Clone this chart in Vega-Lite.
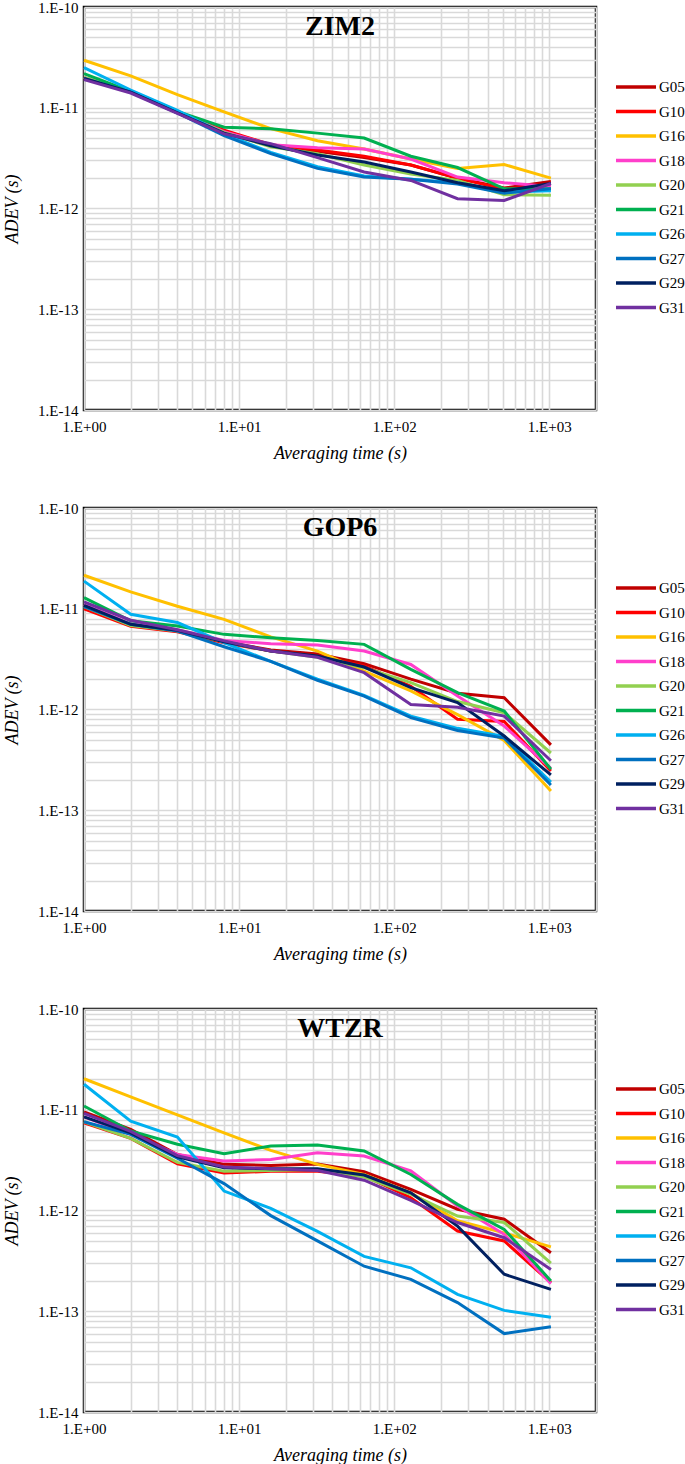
{
"$schema": "https://vega.github.io/schema/vega-lite/v6.json",
"padding": {"left": 2, "top": -2, "right": 5, "bottom": 2},
"datasets": {"adev": [
{"station":"ZIM2","sat":"G05","tau":1,"adev":1.95e-11},{"station":"ZIM2","sat":"G05","tau":2,"adev":1.43e-11},{"station":"ZIM2","sat":"G05","tau":4,"adev":9.0e-12},{"station":"ZIM2","sat":"G05","tau":8,"adev":5.9e-12},{"station":"ZIM2","sat":"G05","tau":16,"adev":4.2e-12},{"station":"ZIM2","sat":"G05","tau":32,"adev":3.7e-12},{"station":"ZIM2","sat":"G05","tau":64,"adev":3.2e-12},{"station":"ZIM2","sat":"G05","tau":128,"adev":2.7e-12},{"station":"ZIM2","sat":"G05","tau":256,"adev":2.0e-12},{"station":"ZIM2","sat":"G05","tau":512,"adev":1.6e-12},{"station":"ZIM2","sat":"G05","tau":1024,"adev":1.85e-12},
{"station":"ZIM2","sat":"G10","tau":1,"adev":1.95e-11},{"station":"ZIM2","sat":"G10","tau":2,"adev":1.43e-11},{"station":"ZIM2","sat":"G10","tau":4,"adev":9.0e-12},{"station":"ZIM2","sat":"G10","tau":8,"adev":6.0e-12},{"station":"ZIM2","sat":"G10","tau":16,"adev":4.3e-12},{"station":"ZIM2","sat":"G10","tau":32,"adev":3.8e-12},{"station":"ZIM2","sat":"G10","tau":64,"adev":3.3e-12},{"station":"ZIM2","sat":"G10","tau":128,"adev":2.7e-12},{"station":"ZIM2","sat":"G10","tau":256,"adev":2.0e-12},{"station":"ZIM2","sat":"G10","tau":512,"adev":1.55e-12},{"station":"ZIM2","sat":"G10","tau":1024,"adev":1.75e-12},
{"station":"ZIM2","sat":"G16","tau":1,"adev":2.96e-11},{"station":"ZIM2","sat":"G16","tau":2,"adev":2.07e-11},{"station":"ZIM2","sat":"G16","tau":4,"adev":1.35e-11},{"station":"ZIM2","sat":"G16","tau":8,"adev":9.1e-12},{"station":"ZIM2","sat":"G16","tau":16,"adev":6.2e-12},{"station":"ZIM2","sat":"G16","tau":32,"adev":4.7e-12},{"station":"ZIM2","sat":"G16","tau":64,"adev":3.9e-12},{"station":"ZIM2","sat":"G16","tau":128,"adev":3.1e-12},{"station":"ZIM2","sat":"G16","tau":256,"adev":2.5e-12},{"station":"ZIM2","sat":"G16","tau":512,"adev":2.73e-12},{"station":"ZIM2","sat":"G16","tau":1024,"adev":2.0e-12},
{"station":"ZIM2","sat":"G18","tau":1,"adev":2.0e-11},{"station":"ZIM2","sat":"G18","tau":2,"adev":1.43e-11},{"station":"ZIM2","sat":"G18","tau":4,"adev":9.0e-12},{"station":"ZIM2","sat":"G18","tau":8,"adev":5.8e-12},{"station":"ZIM2","sat":"G18","tau":16,"adev":4.3e-12},{"station":"ZIM2","sat":"G18","tau":32,"adev":4.0e-12},{"station":"ZIM2","sat":"G18","tau":64,"adev":3.9e-12},{"station":"ZIM2","sat":"G18","tau":128,"adev":3.1e-12},{"station":"ZIM2","sat":"G18","tau":256,"adev":2.05e-12},{"station":"ZIM2","sat":"G18","tau":512,"adev":1.8e-12},{"station":"ZIM2","sat":"G18","tau":1024,"adev":1.65e-12},
{"station":"ZIM2","sat":"G20","tau":1,"adev":2.0e-11},{"station":"ZIM2","sat":"G20","tau":2,"adev":1.43e-11},{"station":"ZIM2","sat":"G20","tau":4,"adev":9.0e-12},{"station":"ZIM2","sat":"G20","tau":8,"adev":5.7e-12},{"station":"ZIM2","sat":"G20","tau":16,"adev":4.1e-12},{"station":"ZIM2","sat":"G20","tau":32,"adev":3.5e-12},{"station":"ZIM2","sat":"G20","tau":64,"adev":2.7e-12},{"station":"ZIM2","sat":"G20","tau":128,"adev":2.2e-12},{"station":"ZIM2","sat":"G20","tau":256,"adev":1.9e-12},{"station":"ZIM2","sat":"G20","tau":512,"adev":1.37e-12},{"station":"ZIM2","sat":"G20","tau":1024,"adev":1.35e-12},
{"station":"ZIM2","sat":"G21","tau":1,"adev":2.18e-11},{"station":"ZIM2","sat":"G21","tau":2,"adev":1.45e-11},{"station":"ZIM2","sat":"G21","tau":4,"adev":9.2e-12},{"station":"ZIM2","sat":"G21","tau":8,"adev":6.4e-12},{"station":"ZIM2","sat":"G21","tau":16,"adev":6.2e-12},{"station":"ZIM2","sat":"G21","tau":32,"adev":5.6e-12},{"station":"ZIM2","sat":"G21","tau":64,"adev":5.0e-12},{"station":"ZIM2","sat":"G21","tau":128,"adev":3.3e-12},{"station":"ZIM2","sat":"G21","tau":256,"adev":2.55e-12},{"station":"ZIM2","sat":"G21","tau":512,"adev":1.57e-12},{"station":"ZIM2","sat":"G21","tau":1024,"adev":1.57e-12},
{"station":"ZIM2","sat":"G26","tau":1,"adev":2.5e-11},{"station":"ZIM2","sat":"G26","tau":2,"adev":1.5e-11},{"station":"ZIM2","sat":"G26","tau":4,"adev":9.4e-12},{"station":"ZIM2","sat":"G26","tau":8,"adev":5.5e-12},{"station":"ZIM2","sat":"G26","tau":16,"adev":3.6e-12},{"station":"ZIM2","sat":"G26","tau":32,"adev":2.6e-12},{"station":"ZIM2","sat":"G26","tau":64,"adev":2.1e-12},{"station":"ZIM2","sat":"G26","tau":128,"adev":1.95e-12},{"station":"ZIM2","sat":"G26","tau":256,"adev":1.8e-12},{"station":"ZIM2","sat":"G26","tau":512,"adev":1.45e-12},{"station":"ZIM2","sat":"G26","tau":1024,"adev":1.5e-12},
{"station":"ZIM2","sat":"G27","tau":1,"adev":1.95e-11},{"station":"ZIM2","sat":"G27","tau":2,"adev":1.43e-11},{"station":"ZIM2","sat":"G27","tau":4,"adev":8.9e-12},{"station":"ZIM2","sat":"G27","tau":8,"adev":5.3e-12},{"station":"ZIM2","sat":"G27","tau":16,"adev":3.5e-12},{"station":"ZIM2","sat":"G27","tau":32,"adev":2.5e-12},{"station":"ZIM2","sat":"G27","tau":64,"adev":2.05e-12},{"station":"ZIM2","sat":"G27","tau":128,"adev":1.95e-12},{"station":"ZIM2","sat":"G27","tau":256,"adev":1.75e-12},{"station":"ZIM2","sat":"G27","tau":512,"adev":1.42e-12},{"station":"ZIM2","sat":"G27","tau":1024,"adev":1.57e-12},
{"station":"ZIM2","sat":"G29","tau":1,"adev":1.95e-11},{"station":"ZIM2","sat":"G29","tau":2,"adev":1.43e-11},{"station":"ZIM2","sat":"G29","tau":4,"adev":8.9e-12},{"station":"ZIM2","sat":"G29","tau":8,"adev":5.6e-12},{"station":"ZIM2","sat":"G29","tau":16,"adev":4.2e-12},{"station":"ZIM2","sat":"G29","tau":32,"adev":3.4e-12},{"station":"ZIM2","sat":"G29","tau":64,"adev":2.9e-12},{"station":"ZIM2","sat":"G29","tau":128,"adev":2.3e-12},{"station":"ZIM2","sat":"G29","tau":256,"adev":1.8e-12},{"station":"ZIM2","sat":"G29","tau":512,"adev":1.5e-12},{"station":"ZIM2","sat":"G29","tau":1024,"adev":1.77e-12},
{"station":"ZIM2","sat":"G31","tau":1,"adev":1.9e-11},{"station":"ZIM2","sat":"G31","tau":2,"adev":1.4e-11},{"station":"ZIM2","sat":"G31","tau":4,"adev":8.8e-12},{"station":"ZIM2","sat":"G31","tau":8,"adev":5.5e-12},{"station":"ZIM2","sat":"G31","tau":16,"adev":4.4e-12},{"station":"ZIM2","sat":"G31","tau":32,"adev":3.2e-12},{"station":"ZIM2","sat":"G31","tau":64,"adev":2.3e-12},{"station":"ZIM2","sat":"G31","tau":128,"adev":1.9e-12},{"station":"ZIM2","sat":"G31","tau":256,"adev":1.25e-12},{"station":"ZIM2","sat":"G31","tau":512,"adev":1.2e-12},{"station":"ZIM2","sat":"G31","tau":1024,"adev":1.77e-12},
{"station":"GOP6","sat":"G05","tau":1,"adev":1.05e-11},{"station":"GOP6","sat":"G05","tau":2,"adev":6.9e-12},{"station":"GOP6","sat":"G05","tau":4,"adev":6.0e-12},{"station":"GOP6","sat":"G05","tau":8,"adev":4.7e-12},{"station":"GOP6","sat":"G05","tau":16,"adev":3.9e-12},{"station":"GOP6","sat":"G05","tau":32,"adev":3.55e-12},{"station":"GOP6","sat":"G05","tau":64,"adev":2.85e-12},{"station":"GOP6","sat":"G05","tau":128,"adev":2.0e-12},{"station":"GOP6","sat":"G05","tau":256,"adev":1.45e-12},{"station":"GOP6","sat":"G05","tau":512,"adev":1.31e-12},{"station":"GOP6","sat":"G05","tau":1024,"adev":4.45e-13},
{"station":"GOP6","sat":"G10","tau":1,"adev":1.0e-11},{"station":"GOP6","sat":"G10","tau":2,"adev":6.7e-12},{"station":"GOP6","sat":"G10","tau":4,"adev":5.9e-12},{"station":"GOP6","sat":"G10","tau":8,"adev":4.6e-12},{"station":"GOP6","sat":"G10","tau":16,"adev":3.8e-12},{"station":"GOP6","sat":"G10","tau":32,"adev":3.4e-12},{"station":"GOP6","sat":"G10","tau":64,"adev":2.7e-12},{"station":"GOP6","sat":"G10","tau":128,"adev":1.7e-12},{"station":"GOP6","sat":"G10","tau":256,"adev":8.0e-13},{"station":"GOP6","sat":"G10","tau":512,"adev":7.6e-13},{"station":"GOP6","sat":"G10","tau":1024,"adev":2.45e-13},
{"station":"GOP6","sat":"G16","tau":1,"adev":2.15e-11},{"station":"GOP6","sat":"G16","tau":2,"adev":1.47e-11},{"station":"GOP6","sat":"G16","tau":4,"adev":1.06e-11},{"station":"GOP6","sat":"G16","tau":8,"adev":7.85e-12},{"station":"GOP6","sat":"G16","tau":16,"adev":5.25e-12},{"station":"GOP6","sat":"G16","tau":32,"adev":3.8e-12},{"station":"GOP6","sat":"G16","tau":64,"adev":2.4e-12},{"station":"GOP6","sat":"G16","tau":128,"adev":1.53e-12},{"station":"GOP6","sat":"G16","tau":256,"adev":8.9e-13},{"station":"GOP6","sat":"G16","tau":512,"adev":4.93e-13},{"station":"GOP6","sat":"G16","tau":1024,"adev":1.55e-13},
{"station":"GOP6","sat":"G18","tau":1,"adev":1.1e-11},{"station":"GOP6","sat":"G18","tau":2,"adev":7.1e-12},{"station":"GOP6","sat":"G18","tau":4,"adev":6.2e-12},{"station":"GOP6","sat":"G18","tau":8,"adev":4.85e-12},{"station":"GOP6","sat":"G18","tau":16,"adev":4.5e-12},{"station":"GOP6","sat":"G18","tau":32,"adev":4.37e-12},{"station":"GOP6","sat":"G18","tau":64,"adev":3.8e-12},{"station":"GOP6","sat":"G18","tau":128,"adev":2.8e-12},{"station":"GOP6","sat":"G18","tau":256,"adev":1.36e-12},{"station":"GOP6","sat":"G18","tau":512,"adev":6.85e-13},{"station":"GOP6","sat":"G18","tau":1024,"adev":2.6e-13},
{"station":"GOP6","sat":"G20","tau":1,"adev":1.05e-11},{"station":"GOP6","sat":"G20","tau":2,"adev":6.8e-12},{"station":"GOP6","sat":"G20","tau":4,"adev":6.0e-12},{"station":"GOP6","sat":"G20","tau":8,"adev":4.7e-12},{"station":"GOP6","sat":"G20","tau":16,"adev":3.8e-12},{"station":"GOP6","sat":"G20","tau":32,"adev":3.3e-12},{"station":"GOP6","sat":"G20","tau":64,"adev":2.6e-12},{"station":"GOP6","sat":"G20","tau":128,"adev":1.85e-12},{"station":"GOP6","sat":"G20","tau":256,"adev":1.2e-12},{"station":"GOP6","sat":"G20","tau":512,"adev":9.3e-13},{"station":"GOP6","sat":"G20","tau":1024,"adev":3.7e-13},
{"station":"GOP6","sat":"G21","tau":1,"adev":1.29e-11},{"station":"GOP6","sat":"G21","tau":2,"adev":7.6e-12},{"station":"GOP6","sat":"G21","tau":4,"adev":6.75e-12},{"station":"GOP6","sat":"G21","tau":8,"adev":5.57e-12},{"station":"GOP6","sat":"G21","tau":16,"adev":5.16e-12},{"station":"GOP6","sat":"G21","tau":32,"adev":4.85e-12},{"station":"GOP6","sat":"G21","tau":64,"adev":4.43e-12},{"station":"GOP6","sat":"G21","tau":128,"adev":2.5e-12},{"station":"GOP6","sat":"G21","tau":256,"adev":1.47e-12},{"station":"GOP6","sat":"G21","tau":512,"adev":9.65e-13},{"station":"GOP6","sat":"G21","tau":1024,"adev":2.55e-13},
{"station":"GOP6","sat":"G26","tau":1,"adev":1.88e-11},{"station":"GOP6","sat":"G26","tau":2,"adev":8.8e-12},{"station":"GOP6","sat":"G26","tau":4,"adev":7.3e-12},{"station":"GOP6","sat":"G26","tau":8,"adev":4.6e-12},{"station":"GOP6","sat":"G26","tau":16,"adev":3.0e-12},{"station":"GOP6","sat":"G26","tau":32,"adev":2.0e-12},{"station":"GOP6","sat":"G26","tau":64,"adev":1.38e-12},{"station":"GOP6","sat":"G26","tau":128,"adev":8.6e-13},{"station":"GOP6","sat":"G26","tau":256,"adev":6.5e-13},{"station":"GOP6","sat":"G26","tau":512,"adev":5.4e-13},{"station":"GOP6","sat":"G26","tau":1024,"adev":1.9e-13},
{"station":"GOP6","sat":"G27","tau":1,"adev":1.05e-11},{"station":"GOP6","sat":"G27","tau":2,"adev":7.0e-12},{"station":"GOP6","sat":"G27","tau":4,"adev":6.0e-12},{"station":"GOP6","sat":"G27","tau":8,"adev":4.2e-12},{"station":"GOP6","sat":"G27","tau":16,"adev":3.0e-12},{"station":"GOP6","sat":"G27","tau":32,"adev":1.95e-12},{"station":"GOP6","sat":"G27","tau":64,"adev":1.36e-12},{"station":"GOP6","sat":"G27","tau":128,"adev":8.3e-13},{"station":"GOP6","sat":"G27","tau":256,"adev":6.2e-13},{"station":"GOP6","sat":"G27","tau":512,"adev":5.2e-13},{"station":"GOP6","sat":"G27","tau":1024,"adev":1.78e-13},
{"station":"GOP6","sat":"G29","tau":1,"adev":1.08e-11},{"station":"GOP6","sat":"G29","tau":2,"adev":7.0e-12},{"station":"GOP6","sat":"G29","tau":4,"adev":6.1e-12},{"station":"GOP6","sat":"G29","tau":8,"adev":4.7e-12},{"station":"GOP6","sat":"G29","tau":16,"adev":3.8e-12},{"station":"GOP6","sat":"G29","tau":32,"adev":3.4e-12},{"station":"GOP6","sat":"G29","tau":64,"adev":2.64e-12},{"station":"GOP6","sat":"G29","tau":128,"adev":1.65e-12},{"station":"GOP6","sat":"G29","tau":256,"adev":1.17e-12},{"station":"GOP6","sat":"G29","tau":512,"adev":5.45e-13},{"station":"GOP6","sat":"G29","tau":1024,"adev":2.24e-13},
{"station":"GOP6","sat":"G31","tau":1,"adev":1.17e-11},{"station":"GOP6","sat":"G31","tau":2,"adev":7.7e-12},{"station":"GOP6","sat":"G31","tau":4,"adev":6.2e-12},{"station":"GOP6","sat":"G31","tau":8,"adev":4.8e-12},{"station":"GOP6","sat":"G31","tau":16,"adev":3.8e-12},{"station":"GOP6","sat":"G31","tau":32,"adev":3.3e-12},{"station":"GOP6","sat":"G31","tau":64,"adev":2.32e-12},{"station":"GOP6","sat":"G31","tau":128,"adev":1.12e-12},{"station":"GOP6","sat":"G31","tau":256,"adev":1.05e-12},{"station":"GOP6","sat":"G31","tau":512,"adev":8.6e-13},{"station":"GOP6","sat":"G31","tau":1024,"adev":3.1e-13},
{"station":"WTZR","sat":"G05","tau":1,"adev":9.5e-12},{"station":"WTZR","sat":"G05","tau":2,"adev":6.4e-12},{"station":"WTZR","sat":"G05","tau":4,"adev":3.6e-12},{"station":"WTZR","sat":"G05","tau":8,"adev":2.87e-12},{"station":"WTZR","sat":"G05","tau":16,"adev":2.8e-12},{"station":"WTZR","sat":"G05","tau":32,"adev":2.9e-12},{"station":"WTZR","sat":"G05","tau":64,"adev":2.43e-12},{"station":"WTZR","sat":"G05","tau":128,"adev":1.62e-12},{"station":"WTZR","sat":"G05","tau":256,"adev":1.03e-12},{"station":"WTZR","sat":"G05","tau":512,"adev":8.2e-13},{"station":"WTZR","sat":"G05","tau":1024,"adev":3.8e-13},
{"station":"WTZR","sat":"G10","tau":1,"adev":7.4e-12},{"station":"WTZR","sat":"G10","tau":2,"adev":5.2e-12},{"station":"WTZR","sat":"G10","tau":4,"adev":2.9e-12},{"station":"WTZR","sat":"G10","tau":8,"adev":2.35e-12},{"station":"WTZR","sat":"G10","tau":16,"adev":2.45e-12},{"station":"WTZR","sat":"G10","tau":32,"adev":2.45e-12},{"station":"WTZR","sat":"G10","tau":64,"adev":2.2e-12},{"station":"WTZR","sat":"G10","tau":128,"adev":1.34e-12},{"station":"WTZR","sat":"G10","tau":256,"adev":6.25e-13},{"station":"WTZR","sat":"G10","tau":512,"adev":4.98e-13},{"station":"WTZR","sat":"G10","tau":1024,"adev":1.92e-13},
{"station":"WTZR","sat":"G16","tau":1,"adev":2.03e-11},{"station":"WTZR","sat":"G16","tau":2,"adev":1.34e-11},{"station":"WTZR","sat":"G16","tau":4,"adev":8.9e-12},{"station":"WTZR","sat":"G16","tau":8,"adev":5.9e-12},{"station":"WTZR","sat":"G16","tau":16,"adev":3.95e-12},{"station":"WTZR","sat":"G16","tau":32,"adev":2.87e-12},{"station":"WTZR","sat":"G16","tau":64,"adev":2.28e-12},{"station":"WTZR","sat":"G16","tau":128,"adev":1.5e-12},{"station":"WTZR","sat":"G16","tau":256,"adev":7.9e-13},{"station":"WTZR","sat":"G16","tau":512,"adev":6.0e-13},{"station":"WTZR","sat":"G16","tau":1024,"adev":4.35e-13},
{"station":"WTZR","sat":"G18","tau":1,"adev":8.5e-12},{"station":"WTZR","sat":"G18","tau":2,"adev":5.7e-12},{"station":"WTZR","sat":"G18","tau":4,"adev":3.6e-12},{"station":"WTZR","sat":"G18","tau":8,"adev":3.1e-12},{"station":"WTZR","sat":"G18","tau":16,"adev":3.2e-12},{"station":"WTZR","sat":"G18","tau":32,"adev":3.75e-12},{"station":"WTZR","sat":"G18","tau":64,"adev":3.47e-12},{"station":"WTZR","sat":"G18","tau":128,"adev":2.47e-12},{"station":"WTZR","sat":"G18","tau":256,"adev":1.11e-12},{"station":"WTZR","sat":"G18","tau":512,"adev":5.8e-13},{"station":"WTZR","sat":"G18","tau":1024,"adev":1.88e-13},
{"station":"WTZR","sat":"G20","tau":1,"adev":7.6e-12},{"station":"WTZR","sat":"G20","tau":2,"adev":5.2e-12},{"station":"WTZR","sat":"G20","tau":4,"adev":3.0e-12},{"station":"WTZR","sat":"G20","tau":8,"adev":2.45e-12},{"station":"WTZR","sat":"G20","tau":16,"adev":2.5e-12},{"station":"WTZR","sat":"G20","tau":32,"adev":2.55e-12},{"station":"WTZR","sat":"G20","tau":64,"adev":2.15e-12},{"station":"WTZR","sat":"G20","tau":128,"adev":1.45e-12},{"station":"WTZR","sat":"G20","tau":256,"adev":8.8e-13},{"station":"WTZR","sat":"G20","tau":512,"adev":7.6e-13},{"station":"WTZR","sat":"G20","tau":1024,"adev":3.0e-13},
{"station":"WTZR","sat":"G21","tau":1,"adev":1.09e-11},{"station":"WTZR","sat":"G21","tau":2,"adev":6.16e-12},{"station":"WTZR","sat":"G21","tau":4,"adev":4.54e-12},{"station":"WTZR","sat":"G21","tau":8,"adev":3.66e-12},{"station":"WTZR","sat":"G21","tau":16,"adev":4.37e-12},{"station":"WTZR","sat":"G21","tau":32,"adev":4.47e-12},{"station":"WTZR","sat":"G21","tau":64,"adev":3.9e-12},{"station":"WTZR","sat":"G21","tau":128,"adev":2.28e-12},{"station":"WTZR","sat":"G21","tau":256,"adev":1.15e-12},{"station":"WTZR","sat":"G21","tau":512,"adev":6.5e-13},{"station":"WTZR","sat":"G21","tau":1024,"adev":2.0e-13},
{"station":"WTZR","sat":"G26","tau":1,"adev":1.79e-11},{"station":"WTZR","sat":"G26","tau":2,"adev":7.7e-12},{"station":"WTZR","sat":"G26","tau":4,"adev":5.37e-12},{"station":"WTZR","sat":"G26","tau":8,"adev":1.56e-12},{"station":"WTZR","sat":"G26","tau":16,"adev":1.05e-12},{"station":"WTZR","sat":"G26","tau":32,"adev":6.2e-13},{"station":"WTZR","sat":"G26","tau":64,"adev":3.5e-13},{"station":"WTZR","sat":"G26","tau":128,"adev":2.7e-13},{"station":"WTZR","sat":"G26","tau":256,"adev":1.47e-13},{"station":"WTZR","sat":"G26","tau":512,"adev":1.02e-13},{"station":"WTZR","sat":"G26","tau":1024,"adev":8.7e-14},
{"station":"WTZR","sat":"G27","tau":1,"adev":7.6e-12},{"station":"WTZR","sat":"G27","tau":2,"adev":5.7e-12},{"station":"WTZR","sat":"G27","tau":4,"adev":3.3e-12},{"station":"WTZR","sat":"G27","tau":8,"adev":1.85e-12},{"station":"WTZR","sat":"G27","tau":16,"adev":8.9e-13},{"station":"WTZR","sat":"G27","tau":32,"adev":5.0e-13},{"station":"WTZR","sat":"G27","tau":64,"adev":2.8e-13},{"station":"WTZR","sat":"G27","tau":128,"adev":2.07e-13},{"station":"WTZR","sat":"G27","tau":256,"adev":1.22e-13},{"station":"WTZR","sat":"G27","tau":512,"adev":6.0e-14},{"station":"WTZR","sat":"G27","tau":1024,"adev":7.0e-14},
{"station":"WTZR","sat":"G29","tau":1,"adev":8.5e-12},{"station":"WTZR","sat":"G29","tau":2,"adev":5.9e-12},{"station":"WTZR","sat":"G29","tau":4,"adev":3.4e-12},{"station":"WTZR","sat":"G29","tau":8,"adev":2.65e-12},{"station":"WTZR","sat":"G29","tau":16,"adev":2.6e-12},{"station":"WTZR","sat":"G29","tau":32,"adev":2.6e-12},{"station":"WTZR","sat":"G29","tau":64,"adev":2.25e-12},{"station":"WTZR","sat":"G29","tau":128,"adev":1.5e-12},{"station":"WTZR","sat":"G29","tau":256,"adev":7.0e-13},{"station":"WTZR","sat":"G29","tau":512,"adev":2.33e-13},{"station":"WTZR","sat":"G29","tau":1024,"adev":1.65e-13},
{"station":"WTZR","sat":"G31","tau":1,"adev":9.2e-12},{"station":"WTZR","sat":"G31","tau":2,"adev":6.1e-12},{"station":"WTZR","sat":"G31","tau":4,"adev":3.5e-12},{"station":"WTZR","sat":"G31","tau":8,"adev":2.7e-12},{"station":"WTZR","sat":"G31","tau":16,"adev":2.6e-12},{"station":"WTZR","sat":"G31","tau":32,"adev":2.5e-12},{"station":"WTZR","sat":"G31","tau":64,"adev":2.0e-12},{"station":"WTZR","sat":"G31","tau":128,"adev":1.26e-12},{"station":"WTZR","sat":"G31","tau":256,"adev":7.6e-13},{"station":"WTZR","sat":"G31","tau":512,"adev":5.37e-13},{"station":"WTZR","sat":"G31","tau":1024,"adev":2.6e-13}
]},
"config": {
  "view": {"stroke": "black", "strokeWidth": 2.5},
  "font": "Liberation Serif",
  "axis": {"grid": true, "gridColor": "#d9d9d9", "gridWidth": 1.6, "ticks": false, "domain": false, "labelFont": "Liberation Serif", "labelFontSize": 15, "labelColor": "black", "labelOverlap": false, "labelBound": false, "labelFlush": false, "titleFont": "Liberation Serif", "titleFontSize": 18, "titleFontStyle": "italic", "titleFontWeight": "normal", "titleColor": "black"},
  "legend": {"symbolType": "stroke", "symbolStrokeWidth": 3.5, "symbolSize": 1600, "labelFont": "Liberation Serif", "labelFontSize": 15, "labelColor": "black", "labelOffset": 1, "rowPadding": 8.5, "clipHeight": 16},
  "title": {"font": "Liberation Serif", "fontSize": 28, "fontWeight": "bold", "color": "black", "anchor": "middle", "offset": -41, "baseline": "alphabetic"}
},
"spacing": 35,
"resolve": {"scale": {"color": "independent"}},
"vconcat": [
{"title": {"text": "ZIM2"}, "width": 512, "height": 403, "data": {"name": "adev"},
 "transform": [{"filter": "datum.station == 'ZIM2'"}],
 "mark": {"type": "line", "strokeWidth": 3},
 "encoding": {
  "x": {"field": "tau", "type": "quantitative", "scale": {"type": "log", "domain": [1, 2000], "nice": false}, "axis": {"values": [1,2,3,4,5,6,7,8,9,10,20,30,40,50,60,70,80,90,100,200,300,400,500,600,700,800,900,1000,2000], "format": ".0e", "labelExpr": "slice(datum.label,0,1) == '1' ? '1.E+0' + slice(datum.label,3) : ''", "title": "Averaging time (s)", "labelPadding": 9, "titlePadding": 10}},
  "y": {"field": "adev", "type": "quantitative", "scale": {"type": "log", "domain": [1e-14, 1e-10], "nice": false}, "axis": {"values": [1e-14,2e-14,3e-14,4e-14,5e-14,6e-14,7e-14,8e-14,9e-14,1e-13,2e-13,3e-13,4e-13,5e-13,6e-13,7e-13,8e-13,9e-13,1e-12,2e-12,3e-12,4e-12,5e-12,6e-12,7e-12,8e-12,9e-12,1e-11,2e-11,3e-11,4e-11,5e-11,6e-11,7e-11,8e-11,9e-11,1e-10], "format": ".0e", "labelExpr": "slice(datum.label,0,1) == '1' ? replace(datum.label, 'e', '.E') : ''", "title": "ADEV (s)", "labelPadding": 6, "titlePadding": 16}},
  "color": {"field": "sat", "type": "nominal", "scale": {"domain": ["G05","G10","G16","G18","G20","G21","G26","G27","G29","G31"], "range": ["#C00000","#FF0000","#FFC000","#FF3FCB","#92D050","#00B050","#00B0F0","#0070C0","#002060","#7030A0"]}, "legend": {"title": null, "orient": "none", "legendX": 530, "legendY": 72}}
 }},
{"title": {"text": "GOP6"}, "width": 512, "height": 403, "data": {"name": "adev"},
 "transform": [{"filter": "datum.station == 'GOP6'"}],
 "mark": {"type": "line", "strokeWidth": 3},
 "encoding": {
  "x": {"field": "tau", "type": "quantitative", "scale": {"type": "log", "domain": [1, 2000], "nice": false}, "axis": {"values": [1,2,3,4,5,6,7,8,9,10,20,30,40,50,60,70,80,90,100,200,300,400,500,600,700,800,900,1000,2000], "format": ".0e", "labelExpr": "slice(datum.label,0,1) == '1' ? '1.E+0' + slice(datum.label,3) : ''", "title": "Averaging time (s)", "labelPadding": 9, "titlePadding": 10}},
  "y": {"field": "adev", "type": "quantitative", "scale": {"type": "log", "domain": [1e-14, 1e-10], "nice": false}, "axis": {"values": [1e-14,2e-14,3e-14,4e-14,5e-14,6e-14,7e-14,8e-14,9e-14,1e-13,2e-13,3e-13,4e-13,5e-13,6e-13,7e-13,8e-13,9e-13,1e-12,2e-12,3e-12,4e-12,5e-12,6e-12,7e-12,8e-12,9e-12,1e-11,2e-11,3e-11,4e-11,5e-11,6e-11,7e-11,8e-11,9e-11,1e-10], "format": ".0e", "labelExpr": "slice(datum.label,0,1) == '1' ? replace(datum.label, 'e', '.E') : ''", "title": "ADEV (s)", "labelPadding": 6, "titlePadding": 16}},
  "color": {"field": "sat", "type": "nominal", "scale": {"domain": ["G05","G10","G16","G18","G20","G21","G26","G27","G29","G31"], "range": ["#C00000","#FF0000","#FFC000","#FF3FCB","#92D050","#00B050","#00B0F0","#0070C0","#002060","#7030A0"]}, "legend": {"title": null, "orient": "none", "legendX": 530, "legendY": 72}}
 }},
{"title": {"text": "WTZR"}, "width": 512, "height": 403, "data": {"name": "adev"},
 "transform": [{"filter": "datum.station == 'WTZR'"}],
 "mark": {"type": "line", "strokeWidth": 3},
 "encoding": {
  "x": {"field": "tau", "type": "quantitative", "scale": {"type": "log", "domain": [1, 2000], "nice": false}, "axis": {"values": [1,2,3,4,5,6,7,8,9,10,20,30,40,50,60,70,80,90,100,200,300,400,500,600,700,800,900,1000,2000], "format": ".0e", "labelExpr": "slice(datum.label,0,1) == '1' ? '1.E+0' + slice(datum.label,3) : ''", "title": "Averaging time (s)", "labelPadding": 9, "titlePadding": 10}},
  "y": {"field": "adev", "type": "quantitative", "scale": {"type": "log", "domain": [1e-14, 1e-10], "nice": false}, "axis": {"values": [1e-14,2e-14,3e-14,4e-14,5e-14,6e-14,7e-14,8e-14,9e-14,1e-13,2e-13,3e-13,4e-13,5e-13,6e-13,7e-13,8e-13,9e-13,1e-12,2e-12,3e-12,4e-12,5e-12,6e-12,7e-12,8e-12,9e-12,1e-11,2e-11,3e-11,4e-11,5e-11,6e-11,7e-11,8e-11,9e-11,1e-10], "format": ".0e", "labelExpr": "slice(datum.label,0,1) == '1' ? replace(datum.label, 'e', '.E') : ''", "title": "ADEV (s)", "labelPadding": 6, "titlePadding": 16}},
  "color": {"field": "sat", "type": "nominal", "scale": {"domain": ["G05","G10","G16","G18","G20","G21","G26","G27","G29","G31"], "range": ["#C00000","#FF0000","#FFC000","#FF3FCB","#92D050","#00B050","#00B0F0","#0070C0","#002060","#7030A0"]}, "legend": {"title": null, "orient": "none", "legendX": 530, "legendY": 72}}
 }}
]
}
